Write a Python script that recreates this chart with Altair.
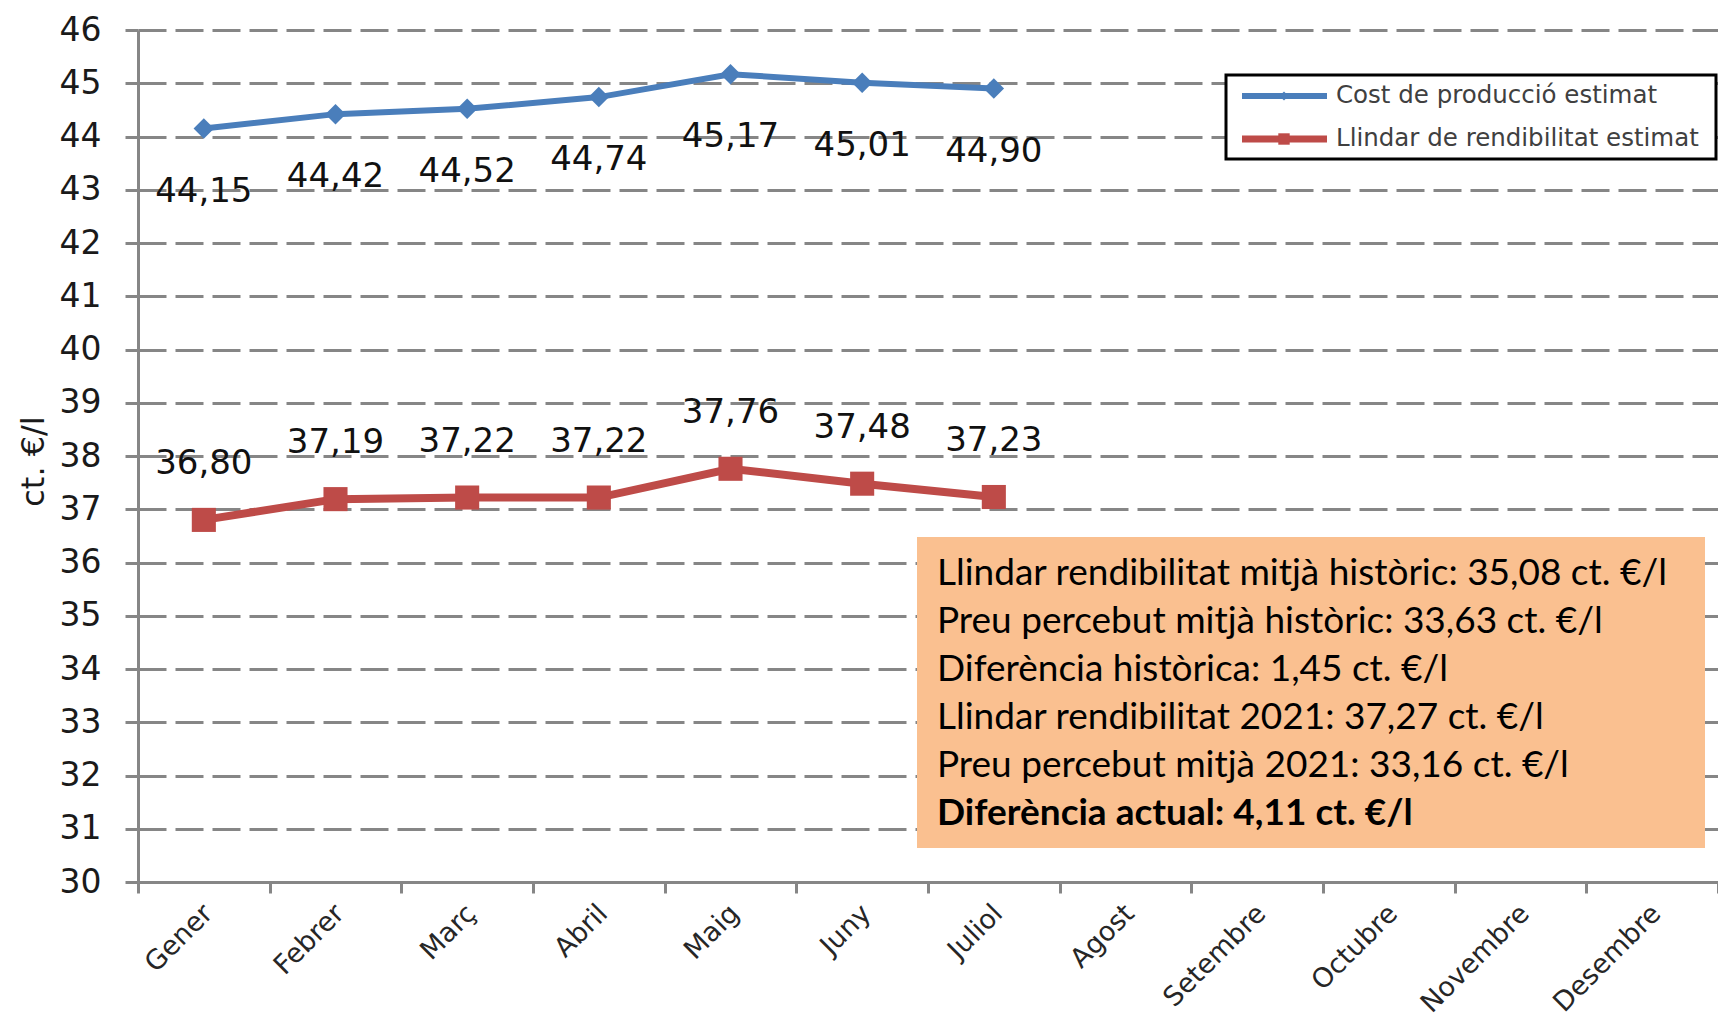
import altair as alt
import pandas as pd

months = ["Gener", "Febrer", "Març", "Abril", "Maig", "Juny", "Juliol",
          "Agost", "Setembre", "Octubre", "Novembre", "Desembre"]
series_names = ["Cost de producció estimat", "Llindar de rendibilitat estimat"]
cost_values = [44.15, 44.42, 44.52, 44.74, 45.17, 45.01, 44.90]
llindar_values = [36.80, 37.19, 37.22, 37.22, 37.76, 37.48, 37.23]
series_colors = ["#4A7EBB", "#BE4B48"]
y_ticks = list(range(30, 47))
box_lines = [
    "Llindar rendibilitat mitjà històric: 35,08 ct. €/l",
    "Preu percebut mitjà històric: 33,63 ct. €/l",
    "Diferència històrica: 1,45 ct. €/l",
    "Llindar rendibilitat 2021: 37,27 ct. €/l",
    "Preu percebut mitjà 2021: 33,16 ct. €/l",
    "Diferència actual: 4,11 ct. €/l",
]

rows = []
for name, vals in zip(series_names, [cost_values, llindar_values]):
    for m, v in zip(months, vals):
        rows.append({"month": m, "value": v, "series": name,
                     "label": f"{v:.2f}".replace(".", ",")})
df = pd.DataFrame(rows)

GRID = "#868686"
FONT = "DejaVu Sans"
W, H = 1580, 852

xenc = alt.X("month:N", sort=months, bandPosition=0.5,
             scale=alt.Scale(type="band", domain=months, paddingInner=0, paddingOuter=0),
             axis=alt.Axis(title=None, labelAngle=-45, labelAlign="right", labelBaseline="middle",
                           labelFont=FONT, labelFontSize=27, labelColor="#262626",
                           labelPadding=16, labelOffset=4, tickBand="extent", tickSize=11, tickWidth=3,
                           tickColor=GRID, domainColor=GRID, domainWidth=3, grid=False))
yenc = alt.Y("value:Q", scale=alt.Scale(domain=[30, 46], nice=False, zero=False),
             axis=alt.Axis(values=y_ticks, title="ct. €/l", titleFont=FONT, titleFontSize=32,
                           titleFontWeight="normal", titleColor="#1a1a1a", titleX=-105, titleY=H / 2 + 5,
                           titleBaseline="middle", titleAlign="center",
                           labelFont=FONT, labelFontSize=33, labelColor="#1a1a1a", labelPadding=24,
                           tickSize=13, tickWidth=3, tickColor=GRID, domainColor=GRID, domainWidth=3,
                           grid=True, gridColor=GRID, gridWidth=3, gridDash=[28, 9]))

base = alt.Chart(df).encode(x=xenc, y=yenc)

layers = []
# text box
box_x, box_x2, box_y, box_y2 = 779, 1567, 507, 818
layers.append(alt.Chart(pd.DataFrame({"k": [0]})).mark_rect(color="#FAC090").encode(
    x=alt.value(box_x), x2=alt.value(box_x2), y=alt.value(box_y), y2=alt.value(box_y2)))
for i, line in enumerate(box_lines):
    layers.append(alt.Chart(pd.DataFrame({"t": [line]})).mark_text(
        align="left", baseline="middle", font="Lato", fontSize=37,
        fontWeight="bold" if i == len(box_lines) - 1 else "normal", color="#000000").encode(
        text="t:N", x=alt.value(799), y=alt.value(544 + i * 48)))

# legend box
layers.append(alt.Chart(pd.DataFrame({"k": [0]})).mark_rect(
    fill="white", stroke="#000000", strokeWidth=3).encode(
    x=alt.value(1088), x2=alt.value(1578), y=alt.value(45), y2=alt.value(129)))
for i, (name, col) in enumerate(zip(series_names, series_colors)):
    ly = 66 + i * 43
    layers.append(alt.Chart(pd.DataFrame({"k": [0]})).mark_rule(
        color=col, strokeWidth=6 if i == 0 else 7).encode(
        x=alt.value(1104), x2=alt.value(1189), y=alt.value(ly)))
    layers.append(alt.Chart(pd.DataFrame({"k": [0]})).mark_point(
        shape="diamond" if i == 0 else "square", filled=True, opacity=1,
        color=col, size=80 if i == 0 else 130).encode(
        x=alt.value(1146), y=alt.value(ly)))
    layers.append(alt.Chart(pd.DataFrame({"t": [name]})).mark_text(
        align="left", baseline="middle", font=FONT, fontSize=24.5, color="#404040").encode(
        text="t:N", x=alt.value(1198), y=alt.value(ly)))

for i, (name, col) in enumerate(zip(series_names, series_colors)):
    sub = base.transform_filter(alt.datum.series == name)
    layers.insert(0, sub.mark_line(color=col, strokeWidth=6 if i == 0 else 8))
    layers.insert(1, sub.mark_point(shape="diamond" if i == 0 else "square", filled=True,
                                    opacity=1, color=col, size=420 if i == 0 else 580))
    layers.insert(2, sub.mark_text(font=FONT, fontSize=34, color="#111111", baseline="middle",
                                   dy=63 if i == 0 else -56).encode(text="label:N"))

chart = alt.layer(*layers).properties(
    width=W, height=H,
    autosize=alt.AutoSizeParams(type="none"),
    padding={"left": 130, "top": 22, "right": 0, "bottom": 140},
).configure_view(stroke=None)

chart.save("out.html", embed_options={"renderer": "svg", "actions": False})
